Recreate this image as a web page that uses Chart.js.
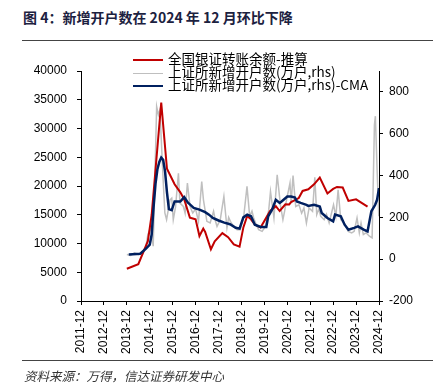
<!DOCTYPE html>
<html>
<head>
<meta charset="utf-8">
<script src="https://cdn.jsdelivr.net/npm/chart.js@4.4.1/dist/chart.umd.min.js"></script>
<style>
body { margin: 0; background: #fff; }
#wrap { position: relative; width: 447px; height: 387px; overflow: hidden; }
#chart { position: absolute; left: 0; top: 0; }
.titulo { position: absolute; left: 23px; top: 7px; font: bold 14px "Noto Sans CJK SC", sans-serif; color: #1c2140; white-space: nowrap; }
.regla { position: absolute; left: 22px; width: 411px; height: 0; border-top: 1.5px solid #444; }
.fuente { position: absolute; left: 24px; top: 366px; font: italic 12.5px "Noto Sans CJK SC", sans-serif; color: #333; white-space: nowrap; }
#leyenda { position: absolute; left: 133px; top: 52px; font: 13.5px "Noto Sans CJK SC", sans-serif; color: #000; }
#leyenda div { height: 13px; line-height: 13px; white-space: nowrap; }
#leyenda span { display: inline-block; width: 30px; vertical-align: middle; margin-right: 5px; }
</style>
</head>
<body>
<div id="wrap">
  <div class="titulo">图 4：新增开户数在 2024 年 12 月环比下降</div>
  <div class="regla" style="top:40px"></div>
  <canvas id="chart" width="447" height="387"></canvas>
  <div id="leyenda"></div>
  <div class="regla" style="top:360px"></div>
  <div class="fuente">资料来源：万得，信达证券研发中心</div>
</div>
<script>
// x = months since 2011-12
var xLabels = ['2011-12','2012-12','2013-12','2014-12','2015-12','2016-12','2017-12',
               '2018-12','2019-12','2020-12','2021-12','2022-12','2023-12','2024-12'];

// 全国银证转账余额-推算 (left axis)
var redT = [24,30,35,37,42,45,49,52,54,57,59,60,62,64,65,68,70,74,77,80,
            83,85,87,89,91,94,97,99,102,104,107,109,110,114,116,119,122,125,129,132,
            134,137,140,144,150];
var redV = [5600,6400,10400,15000,34500,23000,20300,18900,17700,14500,14300,14200,11300,12600,12000,9000,10400,11800,11100,9850,
            9450,12800,14800,14200,13300,12800,14500,15650,16500,15650,16820,16800,17200,17900,19140,19430,20300,21470,18700,19500,
            19840,19730,17400,17690,16420];

// 上证所新增开户数(万户,rhs)
var grayT = [24,26,28,30,32,34,35,36.5,37.8,39.6,40.5,41.3,43,43.9,44.8,46.6,47.5,48.3,49.5,51,51.8,
             53.6,54.5,55.7,57.1,58.5,60,61.5,63.2,64.1,65.9,67.6,69.4,70.3,71.2,72.9,74.8,76.4,77.3,78.2,79.9,81.7,83.4,85.2,86.9,
             88.3,89.5,90.4,92,93,94.8,96.6,98.3,99.2,101,102.7,104.5,105.7,106.6,107.6,109.4,110,111,112.4,114.1,115.5,116.7,118,119.4,
             121.2,122.4,123.4,124.5,125.5,127.3,128.5,129.9,132.2,133.4,134.6,136,137.8,139.9,141.7,143,144.5,145.7,146.6,147.8,149.2,151,
             152.4,153.6,154.1,155,155.9];
var grayV = [22,18,30,22,35,60,118,150,62,730,690,715,380,221,189,284,292,189,250,411,268,
             252,220,364,252,221,240,181,371,284,181,173,229,185,157,189,300,150,200,181,157,141,141,205,348,
             205,230,197,160,141,133,157,237,324,197,403,252,189,230,284,364,269,400,252,260,220,245,173,245,
             229,392,213,240,205,189,215,173,260,205,332,189,173,133,126,133,197,126,173,118,126,110,
             102,641,684,427,205];

// 上证所新增开户数(万户,rhs)-CMA
var blueT = [25,31,34,36,37,38,39,40,41,42,43,44,45,46,47.5,49,52,54,56,57,
             59,62,65,67,69,72,75,78,81,83,85,87,89,91,94,97,98,100,102,104,
             105,108,110,112,113,115,118,119,122,125,126,129,132,133,136,138,140,143,145,148,
             150,152,154,155,156];
var blueV = [22,26,50,70,118,250,360,430,465,486,475,420,320,240,235,276,276,297,270,262,
             245,237,225,213,197,185,175,167,150,146,200,213,205,165,154,154,205,237,284,269,
             276,300,300,295,276,269,260,255,260,252,221,197,181,213,205,165,141,150,157,141,
             133,229,260,284,340];

var series = [
    {label: '全国银证转账余额-推算', t: redT, v: redV, color: '#c00000', width: 2, axis: 'y', order: 1},
    {label: '上证所新增开户数(万户,rhs)', t: grayT, v: grayV, color: '#bfbfbf', width: 1.5, axis: 'y1', order: 2},
    {label: '上证所新增开户数(万户,rhs)-CMA', t: blueT, v: blueV, color: '#002060', width: 2.5, axis: 'y1', order: 0}
];

function toPoints(t, v){
    var pts = [];
    t.forEach(function(x, i){
        pts.push({x: x, y: v[i]});
    });
    return pts;
}

var datasets = [];
series.forEach(function(s){
    datasets.push({
        label: s.label,
        data: toPoints(s.t, s.v),
        borderColor: s.color,
        backgroundColor: s.color,
        borderWidth: s.width,
        pointRadius: 0,
        tension: 0,
        fill: false,
        yAxisID: s.axis,
        order: s.order
    });
});

// legend in html
var leyenda = document.getElementById('leyenda');
series.forEach(function(s){
    var row = document.createElement('div');
    row.innerHTML = '<span style="border-top:' + s.width + 'px solid ' + s.color + '"></span>' + s.label;
    leyenda.appendChild(row);
});

var tickFont = {family: '"Liberation Sans", Arial, sans-serif', size: 12};
var plain = function(v){ return String(v); };

var ctx = document.getElementById('chart').getContext('2d');
var chart = new Chart(ctx, {
    type: 'line',
    data: {datasets: datasets},
    options: {
        responsive: false,
        animation: false,
        layout: {padding: {top: 71, left: 0, right: 0, bottom: 0}},
        plugins: {legend: {display: false}, tooltip: {enabled: false}},
        scales: {
            x: {
                type: 'linear',
                min: 0, max: 156,
                afterFit: function(s){ s.height = 86; },
                afterBuildTicks: function(s){
                    s.ticks = xLabels.map(function(l, i){ return {value: i * 12}; });
                },
                ticks: {
                    minRotation: 90, maxRotation: 90, autoSkip: false, padding: 5,
                    color: '#000', font: tickFont,
                    callback: function(v){ return xLabels[v / 12]; }
                },
                grid: {drawOnChartArea: false, tickLength: 4, color: '#000'},
                border: {color: '#000', width: 1}
            },
            y: {
                position: 'left',
                min: 0, max: 40000,
                afterFit: function(s){ s.width = 81; },
                ticks: {stepSize: 5000, padding: 10, color: '#000', font: tickFont, callback: plain},
                grid: {drawOnChartArea: false, tickLength: 4, color: '#000'},
                border: {color: '#000', width: 1}
            },
            y1: {
                position: 'right',
                min: -200, max: 900,
                afterFit: function(s){ s.width = 68; },
                ticks: {stepSize: 200, includeBounds: false, padding: 6, color: '#000', font: tickFont, callback: plain},
                grid: {drawOnChartArea: false, tickLength: 4, color: '#000'},
                border: {color: '#000', width: 1}
            }
        }
    }
});
</script>
</body>
</html>
